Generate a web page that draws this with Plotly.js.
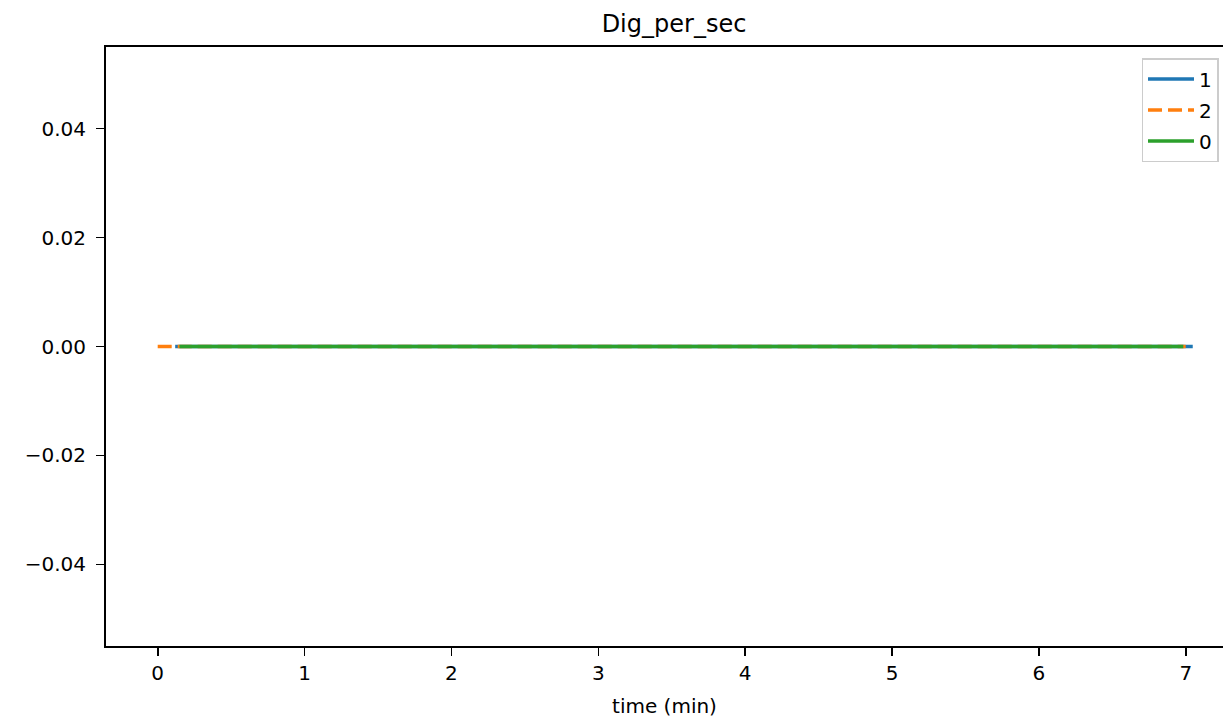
<!DOCTYPE html>
<html>
<head>
<meta charset="utf-8">
<script src="https://cdn.plot.ly/plotly-3.0.1.min.js"></script>
<style>html,body{margin:0;padding:0;background:#fff;}#chart{width:1223px;height:719px;}</style>
</head>
<body>
<div id="chart"></div>
<script>
// Series "1"
const time1 = [0.119, 7.047];
const vals1 = [0, 0];
// Series "2"
const time2 = [0.0, 6.999];
const vals2 = [0, 0];
// Series "0"
const time0 = [0.148, 6.983];
const vals0 = [0, 0];
const seriesNames = ["1", "2", "0"];
const yTicks = [-0.04, -0.02, 0.0, 0.02, 0.04];
const xTicks = [0, 1, 2, 3, 4, 5, 6, 7];

const font = {family: "DejaVu Sans, sans-serif", color: "#000"};

const traces = [
  {x: time1, y: vals1, name: seriesNames[0], legendgroup: "g1", mode: "lines", line: {color: "#1f77b4", width: 3.3}},
  {x: time2, y: vals2, name: seriesNames[1], legendgroup: "g2", mode: "lines", line: {color: "#ff7f0e", width: 3.3, dash: "14px,6px"}},
  {x: time0, y: vals0, name: seriesNames[2], legendgroup: "g0", mode: "lines", line: {color: "#2ca02c", width: 3.3}}
];

const layout = {
  width: 1223, height: 719,
  margin: {l: 106, r: 0, t: 47, b: 73, autoexpand: false},
  paper_bgcolor: "#fff", plot_bgcolor: "#fff",
  font: Object.assign({size: 20}, font),
  title: {text: "Dig_per_sec", font: Object.assign({size: 24}, font), x: 0.5085, xref: "paper", xanchor: "center", y: 1 - 23.5/719, yref: "container", yanchor: "middle"},
  xaxis: {
    range: [-0.352, 7.253], tickvals: xTicks, ticktext: xTicks.map(String),
    showgrid: false, zeroline: false, showline: true, linecolor: "#000", linewidth: 2, mirror: true,
    ticks: "outside", ticklen: 8, tickwidth: 1.6, tickcolor: "#000",
    tickfont: Object.assign({size: 20}, font),
    title: {text: "time (min)", font: Object.assign({size: 20}, font), standoff: 15}
  },
  yaxis: {
    range: [-0.055, 0.055], tickvals: yTicks, tickformat: ".2f",
    showgrid: false, zeroline: false, showline: true, linecolor: "#000", linewidth: 2, mirror: false,
    ticks: "outside", ticklen: 8, tickwidth: 1.6, tickcolor: "#000",
    tickfont: Object.assign({size: 20}, font), ticklabelstandoff: 6
  },
  showlegend: true,
  legend: {
    x: (1141.5 - 106) / 1117, xanchor: "left", xref: "paper",
    y: (646 - 58) / 599, yanchor: "top", yref: "paper",
    bgcolor: "rgba(255,255,255,0.8)", bordercolor: "#cccccc", borderwidth: 1.5,
    font: Object.assign({size: 20}, font), itemwidth: 46, traceorder: "grouped", tracegroupgap: 2
  }
};

Plotly.newPlot("chart", traces, layout, {displayModeBar: false, staticPlot: true});
</script>
</body>
</html>
